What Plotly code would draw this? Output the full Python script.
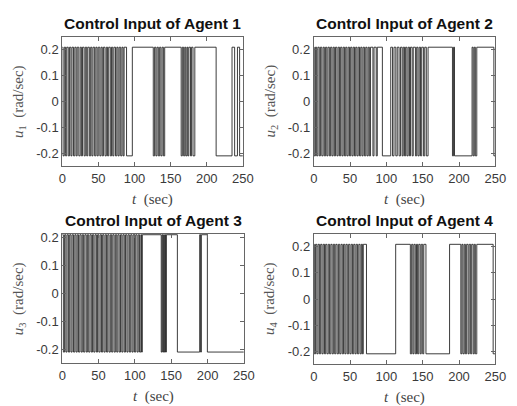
import plotly.graph_objects as go

U = 0.2094  # saturation level (rad/sec)
T_END = 250

# Low (-U) intervals of each bang-bang control input; high (+U) elsewhere
agent1_low = [(1.0,2.8),(4.6,6.2),(8.3,10.1),(12.0,13.5),(15.6,17.4),(19.2,20.7),(22.9,24.8),(26.5,28.0),
              (30.2,31.9),(33.8,35.3),(37.5,39.3),(41.0,42.6),(44.8,46.5),(48.2,49.8),(52.0,53.7),(55.4,57.0),
              (59.2,61.0),(62.7,64.3),(66.5,68.2),(69.9,71.5),(73.7,75.5),(77.2,78.8),(80.9,82.6),(84.2,85.6),
              (89.0,97.0),(126.0,127.8),(129.6,131.2),(133.0,134.8),(136.5,138.2),(140.0,141.8),
              (164.6,166.2),(168.0,169.6),(171.0,172.6),(173.8,175.2),(177.5,179.0),(181.0,183.5),
              (213.0,235.0),(238.6,242.5),(245.5,250.0)]
agent2_low = [(0.6,2.3),(4.0,5.7),(7.6,9.2),(11.1,12.9),(14.6,16.3),(18.0,19.6),(21.5,23.2),(25.0,26.7),
              (28.4,30.0),(31.9,33.6),(35.4,37.0),(38.8,40.5),(42.3,44.0),(45.7,47.4),(49.2,50.8),(52.6,54.3),
              (56.1,57.8),(59.5,61.2),(63.0,64.7),(66.4,68.0),(69.8,71.6),(73.3,75.0),(76.6,78.2),
              (81.5,83.0),(86.0,87.5),(94.5,106.0),(108.5,110.5),(113.0,115.0),(117.5,119.5),(121.7,123.2),
              (125.0,126.5),(128.3,130.0),(131.8,133.2),(135.5,137.0),(140.0,141.7),(143.5,145.2),
              (147.0,148.6),(151.0,152.8),(155.0,157.4),(191.0,192.5),(193.8,218.0),(219.5,221.0),
              (222.5,224.5),(248.0,250.0)]
agent3_low = [(1.5,3.2),(5.0,6.6),(8.5,10.2),(12.0,13.6),(15.5,17.3),(19.0,20.6),(22.4,24.2),(26.0,27.6),
              (29.4,31.1),(33.0,34.6),(36.4,38.2),(40.0,41.6),(43.4,45.1),(47.0,48.6),(50.4,52.2),(54.0,55.6),
              (57.4,59.1),(61.0,62.6),(64.4,66.2),(68.0,69.6),(71.4,73.1),(75.0,76.6),(78.4,80.2),(82.0,83.6),
              (85.4,87.1),(89.0,90.6),(92.4,94.2),(96.0,97.6),(99.4,101.1),(103.0,104.6),(106.4,108.2),
              (109.2,110.2),(136.3,137.5),(138.5,139.6),(140.6,141.8),(142.5,143.3),(158.5,189.2),
              (190.5,191.5),(199.8,250.0)]
agent4_low = [(0.8,2.5),(4.3,6.0),(7.8,9.5),(11.3,13.0),(14.8,16.4),(18.2,20.0),(21.8,23.5),(25.3,27.0),
              (28.8,30.4),(32.2,34.0),(35.8,37.5),(39.3,41.0),(42.8,44.4),(46.2,48.0),(49.8,51.5),(53.3,55.0),
              (56.8,58.4),(60.2,62.0),(63.8,65.5),(67.0,68.2),(72.6,112.8),(133.0,134.8),(136.5,138.0),
              (139.8,141.5),(143.0,144.6),(146.5,148.0),(150.0,151.5),(154.5,187.0),(202.5,204.0),
              (205.5,207.2),(208.8,210.5),(212.5,214.0),(216.0,217.5),(219.5,221.0),(222.5,224.5),
              (247.0,250.0)]

titles = ["Control Input of Agent 1", "Control Input of Agent 2",
          "Control Input of Agent 3", "Control Input of Agent 4"]
x_ticks = [0, 50, 100, 150, 200, 250]
y_ticks = [-0.2, -0.1, 0, 0.1, 0.2]
y_tick_text = ["-0.2", "-0.1", "0", "0.1", "0.2"]
y_ranges = [[-0.25, 0.25], [-0.25, 0.25], [-0.25, 0.213], [-0.25, 0.25]]

W, H = 517, 406
# plot boxes in pixels (left, right, top, bottom)
boxes = [(60, 246, 33, 164), (319, 506, 33, 164), (60, 247, 232, 363), (319, 506, 232, 364)]


def step_xy(lows):
    xs, ys = [0.0], [U]
    for a, b in lows:
        xs += [a, a]
        ys += [U, -U]
        if b >= T_END:
            xs.append(T_END); ys.append(-U)
        else:
            xs += [b, b]
            ys += [-U, U]
    if xs[-1] < T_END:
        xs.append(T_END); ys.append(U)
    return xs, ys


fig = go.Figure()
data = [agent1_low, agent2_low, agent3_low, agent4_low]
tick_font = dict(family="Liberation Sans, Arial", size=13, color="#3a3a3a")
annotations = []
for i, lows in enumerate(data):
    k = "" if i == 0 else str(i + 1)
    xs, ys = step_xy(lows)
    fig.add_trace(go.Scatter(x=xs, y=ys, mode="lines", xaxis="x" + k, yaxis="y" + k,
                             line=dict(color="#1a1a1a", width=0.85), showlegend=False,
                             hoverinfo="skip"))
    l, r, t, b = boxes[i]
    common = dict(showgrid=False, zeroline=False, showline=True, linecolor="#666666", linewidth=1,
                  mirror="ticks", ticks="inside", ticklen=4, tickcolor="#666666", tickfont=tick_font)
    fig.layout["xaxis" + k] = dict(domain=[l / W, r / W], range=[0, 250], tickvals=x_ticks,
                                   anchor="y" + k, **common)
    fig.layout["yaxis" + k] = dict(domain=[1 - b / H, 1 - t / H], range=y_ranges[i], tickvals=y_ticks,
                                   ticktext=y_tick_text, anchor="x" + k, **common)
    cx = (l + r) / 2 / W
    annotations.append(dict(text="<b>" + titles[i] + "</b>", x=cx, y=1 - (t - 13) / H, xref="paper",
                            yref="paper", showarrow=False, xanchor="center", yanchor="middle",
                            font=dict(family="Liberation Sans, Arial", size=15.5, color="#111111")))
    annotations.append(dict(text="<i>t</i>  (sec)", x=cx, y=1 - (b + 33) / H, xref="paper", yref="paper",
                            showarrow=False, xanchor="center", yanchor="middle",
                            font=dict(family="Liberation Serif, Times New Roman", size=15, color="#444444")))
    annotations.append(dict(text="<i>u</i><sub>%d</sub>  (rad/sec)" % (i + 1), x=(l - 45) / W,
                            y=1 - (t + b) / 2 / H, xref="paper", yref="paper", textangle=-90,
                            showarrow=False, xanchor="center", yanchor="middle",
                            font=dict(family="Liberation Serif, Times New Roman", size=15, color="#555555")))

fig.update_layout(width=W, height=H, margin=dict(l=0, r=0, t=0, b=0), plot_bgcolor="white",
                  paper_bgcolor="white", annotations=annotations)
fig.write_html("out.html")
